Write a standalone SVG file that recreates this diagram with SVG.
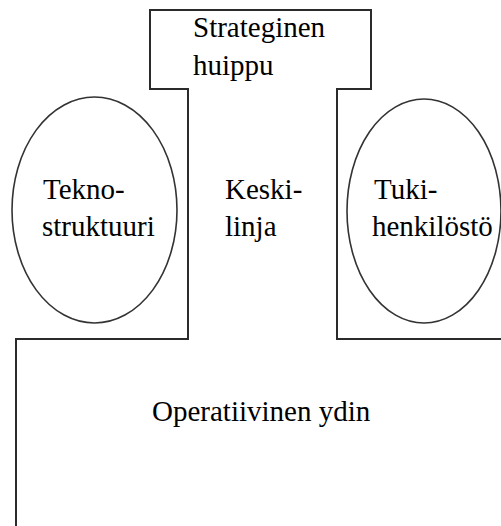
<svg xmlns="http://www.w3.org/2000/svg" width="501" height="526" viewBox="0 0 501 526">
<style>
.frame{fill:none;stroke:#2b2b2b;stroke-width:2}
.oval{fill:none;stroke:#333;stroke-width:1.6}
.t{font-family:'Liberation Serif','Tinos','DejaVu Serif',serif;font-size:29px;fill:#000}
</style>
<rect width="501" height="526" fill="#fff"/>
<g id="organization">
<path class="frame" d="M16,526 V339 H188 V89 H150 V10 H371 V89 H337 V339 H501"/>
</g>
<g id="strategic-apex">
<text class="t" x="193" y="37">Strateginen</text>
<text class="t" x="193" y="75">huippu</text>
</g>
<g id="technostructure">
<ellipse class="oval" cx="94.5" cy="210" rx="82.5" ry="113"/>
<text class="t" x="43" y="199">Tekno-</text>
<text class="t" x="42" y="236">struktuuri</text>
</g>
<g id="middle-line">
<text class="t" x="225" y="199">Keski-</text>
<text class="t" x="225" y="236">linja</text>
</g>
<g id="support-staff">
<ellipse class="oval" cx="424" cy="211" rx="77" ry="112"/>
<text class="t" x="374" y="199">Tuki-</text>
<text class="t" x="372" y="236">henkilöstö</text>
</g>
<g id="operating-core">
<text class="t" x="152" y="421">Operatiivinen ydin</text>
</g>
<g id="connectors"></g>
</svg>
